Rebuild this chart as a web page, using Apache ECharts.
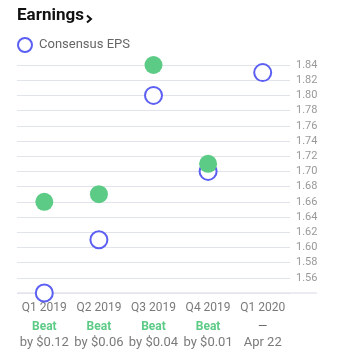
<!DOCTYPE html>
<html>
<head>
<meta charset="utf-8">
<script src="https://cdn.jsdelivr.net/npm/echarts@6/dist/echarts.min.js"></script>
<style>
html,body{margin:0;padding:0;background:#fff;}
#chart{width:347px;height:359px;}
</style>
</head>
<body>
<div id="chart"></div>
<script>
const quarters = ['Q1 2019', 'Q2 2019', 'Q3 2019', 'Q4 2019', 'Q1 2020'];
const consensusEPS = [1.54, 1.61, 1.80, 1.70, 1.83];
const actualEPS = [1.66, 1.67, 1.84, 1.71, null];
const resultLabels = ['Beat', 'Beat', 'Beat', 'Beat', '—'];
const resultDetails = ['by $0.12', 'by $0.06', 'by $0.04', 'by $0.01', 'Apr 22'];
const yMin = 1.54, yMax = 1.84, yStep = 0.02;

const FONT = 'Roboto, "Liberation Sans", sans-serif';
const GREEN = '#5ccb86';
const BLUE = '#5b5ff2';

const chart = echarts.init(document.getElementById('chart'), null, {renderer: 'canvas'});
chart.setOption({
  animation: false,
  backgroundColor: '#fff',
  textStyle: {fontFamily: FONT},
  graphic: [
    {type: 'text', left: 17, top: 7, style: {text: 'Earnings', font: 'bold 17px ' + FONT, fill: '#111'}},
    {type: 'polyline', shape: {points: [[87, 15.5], [91, 19], [87, 22.5]]}, style: {stroke: '#111', lineWidth: 2, fill: null}},
    {type: 'line', shape: {x1: 17, y1: 293, x2: 317, y2: 293}, style: {stroke: '#ebebf2', lineWidth: 2}, z: 0}
  ],
  legend: {
    left: 12, top: 32,
    itemWidth: 14, itemHeight: 14,
    data: [{name: 'Consensus EPS', icon: 'circle'}],
    textStyle: {fontSize: 13, color: '#666', fontFamily: FONT, padding: [0, 0, 0, 2]}
  },
  grid: {left: 17, right: 57, top: 65, bottom: 66},
  xAxis: {
    type: 'category',
    data: quarters,
    boundaryGap: true,
    axisLine: {show: false},
    axisTick: {show: false},
    splitLine: {show: false},
    axisLabel: {
      interval: 0,
      margin: 4,
      formatter: function (v, i) {
        const r = resultLabels[i] === 'Beat' ? '{b|' + resultLabels[i] + '}' : '{n|' + resultLabels[i] + '}';
        return '{q|' + v + '}\n' + r + '\n{d|' + resultDetails[i] + '}';
      },
      rich: {
        q: {fontSize: 12, color: '#7a7a7a', lineHeight: 22, fontFamily: FONT},
        b: {fontSize: 12, color: GREEN, fontWeight: 'bold', lineHeight: 16, fontFamily: FONT},
        n: {fontSize: 12, color: '#666', lineHeight: 16, fontFamily: FONT},
        d: {fontSize: 13, color: '#7a7a7a', lineHeight: 16, fontFamily: FONT}
      }
    }
  },
  yAxis: {
    type: 'value',
    position: 'right',
    min: yMin, max: yMax, interval: yStep,
    axisLine: {show: false},
    axisTick: {show: false},
    splitLine: {show: true, lineStyle: {color: '#e2e4ec', width: 1}},
    axisLabel: {
      margin: 6,
      fontSize: 11,
      color: '#999',
      fontFamily: FONT,
      formatter: function (v) {
        return Math.abs(v - yMin) < 1e-6 ? '' : v.toFixed(2);
      }
    }
  },
  series: [
    {
      name: 'Consensus EPS',
      type: 'scatter',
      data: consensusEPS,
      symbol: 'circle',
      symbolSize: 17,
      itemStyle: {color: '#fff', borderColor: BLUE, borderWidth: 2, opacity: 1},
      z: 2
    },
    {
      name: 'Actual EPS',
      type: 'scatter',
      data: actualEPS,
      symbol: 'circle',
      symbolSize: 18,
      itemStyle: {color: GREEN, opacity: 1},
      z: 3
    }
  ]
});
</script>
</body>
</html>
